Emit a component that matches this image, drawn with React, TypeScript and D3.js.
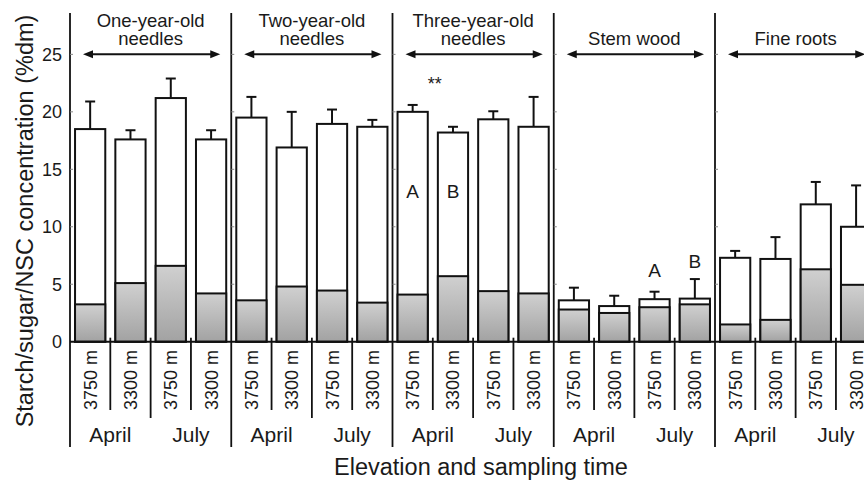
import React, { useEffect, useRef } from "react"
import * as d3 from "d3"

// panel titles (one entry per tissue), each split in lines
const panelTitles: string[][] = [
	["One-year-old", "needles"],
	["Two-year-old", "needles"],
	["Three-year-old", "needles"],
	["Stem wood"],
	["Fine roots"],
]
const elevations = ["3750 m", "3300 m", "3750 m", "3300 m"]
const months = ["April", "July"]
const yTicks = [0, 5, 10, 15, 20, 25]

// total NSC (%dm), one array per panel, order: Apr 3750, Apr 3300, Jul 3750, Jul 3300
const nscOneYear = [18.5, 17.6, 21.2, 17.6]
const nscTwoYear = [19.5, 16.9, 18.95, 18.7]
const nscThreeYear = [20.0, 18.2, 19.35, 18.7]
const nscStem = [3.6, 3.1, 3.7, 3.75]
const nscRoots = [7.3, 7.2, 11.95, 10.0]

// error bars (upper SE) for the totals
const seOneYear = [2.4, 0.8, 1.7, 0.8]
const seTwoYear = [1.8, 3.1, 1.25, 0.6]
const seThreeYear = [0.6, 0.5, 0.7, 2.6]
const seStem = [1.1, 0.9, 0.65, 1.7]
const seRoots = [0.6, 1.9, 1.95, 3.6]

// starch part (grey)
const starchOneYear = [3.25, 5.1, 6.6, 4.2]
const starchTwoYear = [3.6, 4.8, 4.45, 3.4]
const starchThreeYear = [4.1, 5.7, 4.4, 4.2]
const starchStem = [2.8, 2.5, 3.0, 3.25]
const starchRoots = [1.5, 1.9, 6.3, 4.95]

// letters / significance marks: [panel, bar, text, y value]
const marks: [number, number, string, number][] = [
	[2, 0, "A", 12.5],
	[2, 1, "B", 12.5],
	[3, 2, "A", 5.6],
	[3, 3, "B", 6.4],
]
const starMark: [number, number, string, number] = [2, 0.55, "**", 21.9]

const nsc = [nscOneYear, nscTwoYear, nscThreeYear, nscStem, nscRoots]
const se = [seOneYear, seTwoYear, seThreeYear, seStem, seRoots]
const starch = [starchOneYear, starchTwoYear, starchThreeYear, starchStem, starchRoots]

const W = 864
const H = 480
const FONT = "'Liberation Sans', Arial, Helvetica, sans-serif"

const App: React.FC = () => {
	const ref = useRef<SVGSVGElement>(null)

	useEffect(() => {
		const svg = d3.select(ref.current)
		svg.selectAll("*").remove()

		const left = 70
		const panelW = 161.25
		const top = 13
		const bottomLine = 447

		const y = d3.scaleLinear().domain([0, 28.6]).range([341.7, top])
		const px = d3
			.scaleBand<number>()
			.domain(d3.range(panelTitles.length))
			.range([left, left + panelW * panelTitles.length])
		const bx = d3
			.scaleBand<number>()
			.domain(d3.range(elevations.length))
			.range([0, panelW])
			.paddingInner(0.25)
			.paddingOuter(0.125)
		const step = bx.step()

		const defs = svg.append("defs")
		const grad = defs
			.append("linearGradient")
			.attr("id", "grey")
			.attr("x1", 0)
			.attr("y1", 0)
			.attr("x2", 0)
			.attr("y2", 1)
		grad.append("stop").attr("offset", "0%").attr("stop-color", "#d0d0d0")
		grad.append("stop").attr("offset", "100%").attr("stop-color", "#a2a2a2")

		const g = svg.append("g").attr("font-family", FONT).attr("fill", "#1a1a1a")

		// y axis labels
		g.selectAll(".ytl")
			.data(yTicks)
			.join("text")
			.attr("class", "ytl")
			.attr("x", 62)
			.attr("y", (d) => y(d))
			.attr("dy", "0.36em")
			.attr("text-anchor", "end")
			.attr("font-size", 18)
			.text((d) => d)

		// y title
		g.append("text")
			.attr("transform", `translate(33,${221}) rotate(-90)`)
			.attr("text-anchor", "middle")
			.attr("font-size", 23.5)
			.text("Starch/sugar/NSC concentration (%dm)")

		// x title
		g.append("text")
			.attr("x", 481)
			.attr("y", 475)
			.attr("text-anchor", "middle")
			.attr("font-size", 23.5)
			.text("Elevation and sampling time")

		const lines = g.append("g").attr("stroke", "#111").attr("fill", "none")

		panelTitles.forEach((title, p) => {
			const x0 = px(p) as number
			const cx = x0 + panelW / 2

			// panel divider
			lines
				.append("line")
				.attr("x1", x0)
				.attr("x2", x0)
				.attr("y1", top)
				.attr("y2", bottomLine)
				.attr("stroke-width", 1.8)

			// small inward ticks
			yTicks.slice(1).forEach((t) => {
				lines
					.append("line")
					.attr("x1", x0)
					.attr("x2", x0 + 3)
					.attr("y1", y(t))
					.attr("y2", y(t))
					.attr("stroke-width", 1)
					.attr("stroke", "#888")
			})

			// separators under the bars
			d3.range(1, elevations.length).forEach((k) => {
				const sx = x0 + k * step
				lines
					.append("line")
					.attr("x1", sx)
					.attr("x2", sx)
					.attr("y1", y(0) - 4)
					.attr("y2", k === 2 ? 418 : 410)
					.attr("stroke-width", 1.8)
			})

			// title
			title.forEach((t, i) => {
				g.append("text")
					.attr("x", cx)
					.attr("y", 44.5 - (title.length - 1 - i) * 18)
					.attr("text-anchor", "middle")
					.attr("font-size", 18.5)
					.text(t)
			})

			// double arrow
			const ay = y(25)
			const ax1 = x0 + 13
			const ax2 = x0 + panelW - 11
			lines
				.append("line")
				.attr("x1", ax1 + 6)
				.attr("x2", ax2 - 6)
				.attr("y1", ay)
				.attr("y2", ay)
				.attr("stroke-width", 2)
			g.append("path")
				.attr("d", `M${ax1},${ay} L${ax1 + 10},${ay - 4} L${ax1 + 10},${ay + 4} Z`)
				.attr("fill", "#111")
			g.append("path")
				.attr("d", `M${ax2},${ay} L${ax2 - 10},${ay - 4} L${ax2 - 10},${ay + 4} Z`)
				.attr("fill", "#111")

			// bars
			const bars = g.append("g")
			nsc[p].forEach((v, i) => {
				const bxl = x0 + (bx(i) as number)
				const bw = bx.bandwidth()
				const bc = bxl + bw / 2
				const topErr = v + se[p][i]
				bars.append("line")
					.attr("x1", bc)
					.attr("x2", bc)
					.attr("y1", y(v))
					.attr("y2", y(topErr))
					.attr("stroke", "#111")
					.attr("stroke-width", 2)
				bars.append("line")
					.attr("x1", bc - 5)
					.attr("x2", bc + 5)
					.attr("y1", y(topErr))
					.attr("y2", y(topErr))
					.attr("stroke", "#111")
					.attr("stroke-width", 2)
				bars.append("rect")
					.attr("x", bxl)
					.attr("y", y(v))
					.attr("width", bw)
					.attr("height", y(0) - y(v))
					.attr("fill", "#fff")
					.attr("stroke", "#111")
					.attr("stroke-width", 2)
				bars.append("rect")
					.attr("x", bxl)
					.attr("y", y(starch[p][i]))
					.attr("width", bw)
					.attr("height", y(0) - y(starch[p][i]))
					.attr("fill", "url(#grey)")
					.attr("stroke", "#111")
					.attr("stroke-width", 2)

				// elevation label
				g.append("text")
					.attr("transform", `translate(${bc + 6.5},380) rotate(-90)`)
					.attr("text-anchor", "middle")
					.attr("font-size", 18)
					.text(elevations[i])
			})

			// months
			months.forEach((m, j) => {
				g.append("text")
					.attr("x", x0 + step * (2 * j + 1))
					.attr("y", 442)
					.attr("text-anchor", "middle")
					.attr("font-size", 21)
					.text(m)
			})
		})

		// baseline over the bars
		g.append("line")
			.attr("x1", left)
			.attr("x2", W)
			.attr("y1", y(0))
			.attr("y2", y(0))
			.attr("stroke", "#111")
			.attr("stroke-width", 2)

		// letters
		const letterX = (p: number, b: number) =>
			(px(p) as number) + (bx(0) as number) + b * step + bx.bandwidth() / 2
		marks.forEach(([p, b, t, v]) => {
			g.append("text")
				.attr("x", letterX(p, b))
				.attr("y", y(v))
				.attr("text-anchor", "middle")
				.attr("font-size", 19)
				.text(t)
		})
		g.append("text")
			.attr("x", letterX(starMark[0], starMark[1]))
			.attr("y", y(starMark[3]))
			.attr("text-anchor", "middle")
			.attr("font-size", 18)
			.text(starMark[2])
	}, [])

	return (
		<svg
			ref={ref}
			width={W}
			height={H}
			style={{ position: "absolute", left: 0, top: 0, background: "#fff" }}
		/>
	)
}

export default App
